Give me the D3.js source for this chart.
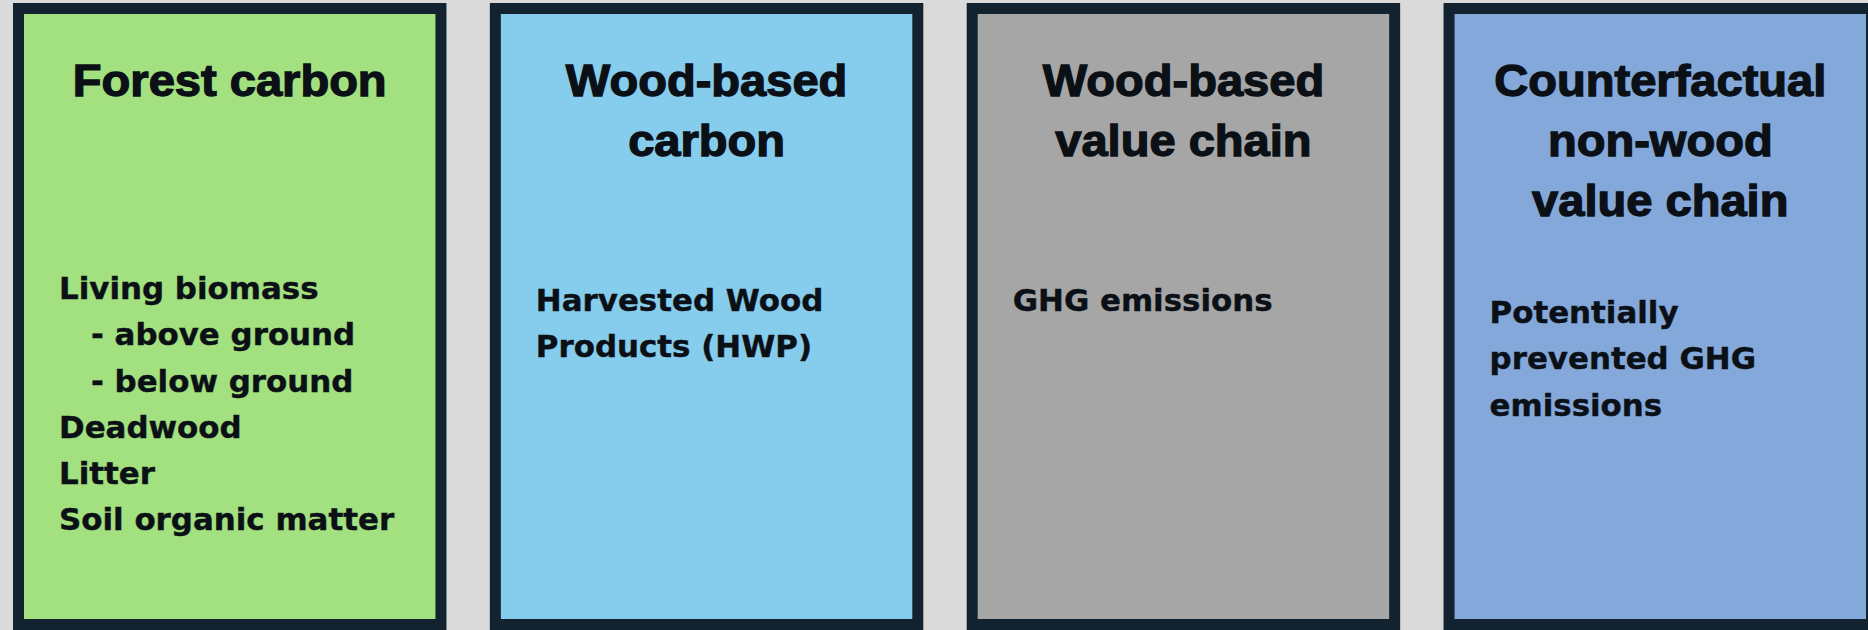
<!DOCTYPE html>
<html>
<head>
<meta charset="utf-8">
<script src="https://cdn.jsdelivr.net/npm/d3@7"></script>
<style>
    body { margin: 0; background: #dadada; }
    svg { display: block; }
    text { font-weight: bold; fill: #0b1016; stroke: #0b1016; }
    .title { font-family: 'Liberation Sans', Arial, sans-serif; stroke-width: 1.3px; }
    .item { font-family: 'DejaVu Sans', sans-serif; stroke-width: 0.4px; }
</style>
</head>
<body>
<script>
// categories (one box each)
var boxes = ['forest', 'wood', 'chain', 'counter'];

var titles = [
    ['Forest carbon'],
    ['Wood-based', 'carbon'],
    ['Wood-based', 'value chain'],
    ['Counterfactual', 'non-wood', 'value chain']
];

var items = [
    ['Living biomass', '- above ground', '- below ground', 'Deadwood', 'Litter', 'Soil organic matter'],
    ['Harvested Wood', 'Products (HWP)'],
    ['GHG emissions'],
    ['Potentially', 'prevented GHG', 'emissions']
];

var fills = ['#a3e07f', '#86ccec', '#a6a6a6', '#83a8d9'];

var width = 1868,
    height = 630,
    border = 11,
    titleSize = 44,
    titleStretch = 1.07,
    titleTop = 96,
    titleStep = 60,
    itemSize = 30,
    itemStretch = 1.03,
    itemStep = 46.3,
    itemPad = 35,
    indent = 32;

var svg = d3.select('body').append('svg')
    .attr('width', width)
    .attr('height', height);

var x = d3.scaleBand()
    .domain(boxes)
    .range([13, 1877])
    .paddingInner(0.091);

var color = d3.scaleOrdinal()
    .domain(boxes)
    .range(fills);

var box = svg.selectAll('g.box')
    .data(boxes)
    .enter().append('g')
    .attr('class', 'box')
    .attr('transform', function (d) {
        return 'translate(' + x(d) + ',0)';
    });

// outer frame, stroke drawn inside the band
box.append('rect')
    .attr('x', border / 2)
    .attr('y', 3 + border / 2)
    .attr('width', x.bandwidth() - border)
    .attr('height', height - 3 - border)
    .style('fill', function (d) { return color(d); })
    .style('stroke', '#13222f')
    .style('stroke-width', border);

box.each(function (d, i) {
    var g = d3.select(this);

    // titles, centred
    var t = g.append('g')
        .attr('transform', 'translate(' + (x.bandwidth() / 2) + ',0) scale(' + titleStretch + ',1)');
    t.selectAll('text')
        .data(titles[i])
        .enter().append('text')
        .attr('class', 'title')
        .attr('text-anchor', 'middle')
        .attr('y', function (s, j) { return titleTop + j * titleStep; })
        .style('font-size', titleSize + 'px')
        .text(function (s) { return s; });

    // body lines, left aligned, start lower when the title is taller
    var top = 287 + 12 * titles[i].length;
    var b = g.append('g')
        .attr('transform', 'translate(' + (border + itemPad) + ',0) scale(' + itemStretch + ',1)');
    b.selectAll('text')
        .data(items[i])
        .enter().append('text')
        .attr('class', 'item')
        .attr('x', function (s) { return s.charAt(0) === '-' ? indent / itemStretch : 0; })
        .attr('y', function (s, j) { return top + j * itemStep; })
        .style('font-size', itemSize + 'px')
        .text(function (s) { return s; });
});
</script>
</body>
</html>
